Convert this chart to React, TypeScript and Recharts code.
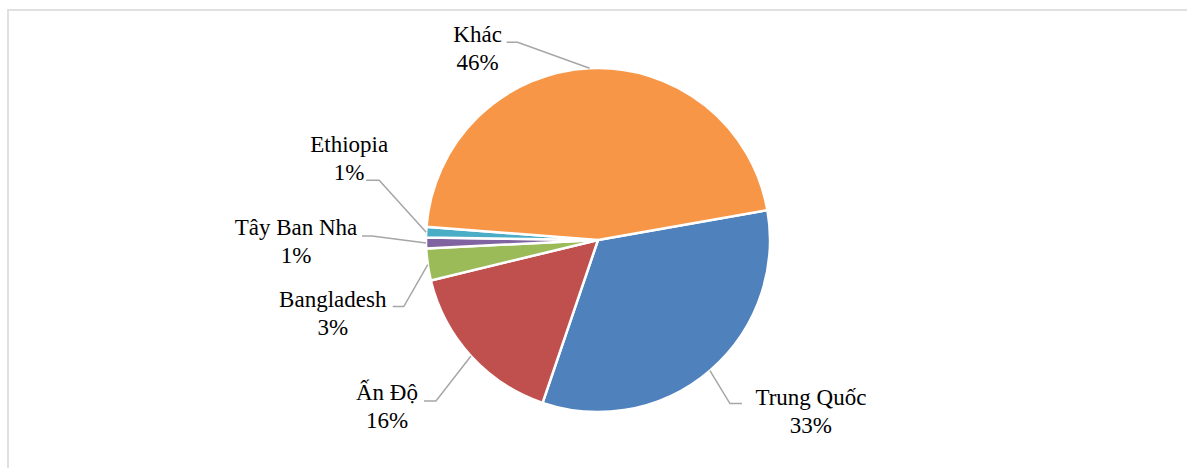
import React from 'react';
import { PieChart, Pie, Cell } from 'recharts';

const countries = ['Trung Quốc', 'Ấn Độ', 'Bangladesh', 'Tây Ban Nha', 'Ethiopia', 'Khác'];
const shares = [33, 16, 3, 1, 1, 46];
const colors = ['#4F81BD', '#C0504D', '#9BBB59', '#8064A2', '#4BACC6', '#F79646'];

// label leader layout, offsets from the slice edge point
const labelLayout = [
  { elbow: [20, 33], end: [32, 33], text: [101, 34] },
  { elbow: [-35, 45], end: [-47, 45], text: [-84, 44] },
  { elbow: [-24, 42], end: [-35, 42], text: [-95, 42] },
  { elbow: [-54, -7], end: [-64, -7], text: [-130, -8] },
  { elbow: [-47, -52], end: [-60, -52], text: [-77, -80] },
  { elbow: [-72, -26], end: [-83, -26], text: [-112, -26] },
];

const data = countries.map((name, i) => ({ name, value: shares[i] }));

const RADIAN = Math.PI / 180;

const renderLabel = (props: any) => {
  const { cx, cy, midAngle, outerRadius, index, name, value } = props;
  const ex = cx + outerRadius * Math.cos(-midAngle * RADIAN);
  const ey = cy + outerRadius * Math.sin(-midAngle * RADIAN);
  const l = labelLayout[index];
  const pts = `${ex},${ey} ${ex + l.elbow[0]},${ey + l.elbow[1]} ${ex + l.end[0]},${ey + l.end[1]}`;
  const tx = ex + l.text[0];
  const ty = ey + l.text[1];
  return (
    <g key={`lbl-${index}`}>
      <polyline points={pts} fill="none" stroke="#a6a6a6" strokeWidth={1.5} />
      <text
        x={tx}
        y={ty}
        textAnchor="middle"
        fill="#000"
        fontFamily="Liberation Serif"
        fontSize={23}
      >
        <tspan x={tx} dy={0}>{name}</tspan>
        <tspan x={tx} dy={28}>{`${value}%`}</tspan>
      </text>
    </g>
  );
};

export default function App() {
  return (
    <div
      style={{
        position: 'fixed',
        left: 0,
        top: 0,
        width: 1187,
        height: 468,
        overflow: 'hidden',
        background: '#fff',
      }}
    >
      <div
        style={{
          position: 'absolute',
          left: 7,
          top: 9,
          width: 1200,
          height: 480,
          border: '2px solid #e0e0e0',
        }}
      />
      <div style={{ position: 'absolute', left: 0, top: 0 }}>
        <PieChart width={1187} height={468} margin={{ top: 0, right: 0, bottom: 0, left: 0 }}>
          <Pie
            data={data}
            dataKey="value"
            nameKey="name"
            cx={598}
            cy={240}
            outerRadius={172}
            startAngle={10}
            endAngle={-350}
            stroke="#fff"
            strokeWidth={2.5}
            label={renderLabel}
            labelLine={false}
            isAnimationActive={false}
          >
            {data.map((d, i) => (
              <Cell key={d.name} fill={colors[i]} />
            ))}
          </Pie>
        </PieChart>
      </div>
    </div>
  );
}
